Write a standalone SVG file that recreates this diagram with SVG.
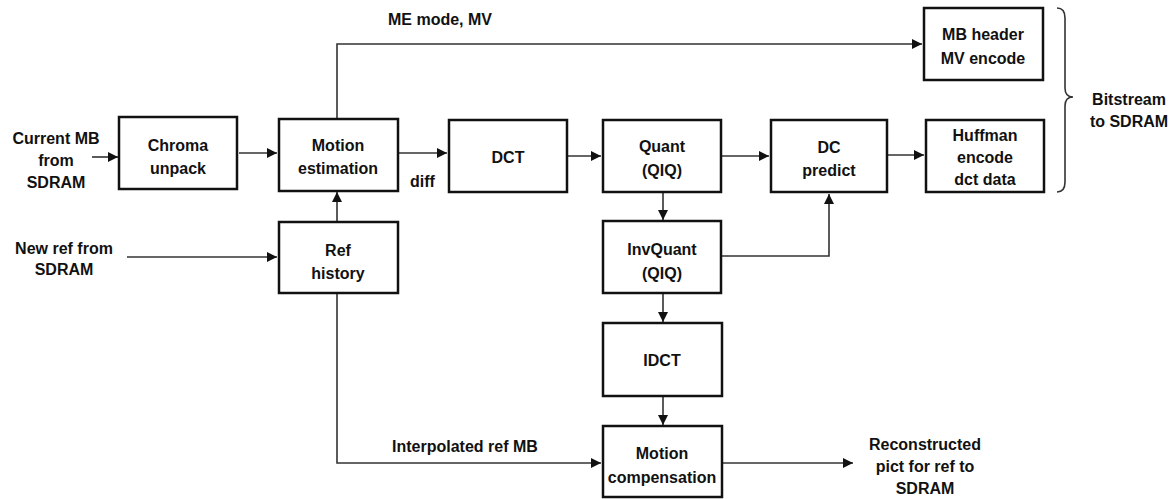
<svg xmlns="http://www.w3.org/2000/svg" width="1173" height="499" viewBox="0 0 1173 499">
<defs>
<marker id="ah" viewBox="0 0 10 10" refX="10" refY="5" markerWidth="10" markerHeight="10" markerUnits="userSpaceOnUse" orient="auto">
<path d="M0,0 L10,5 L0,10 z" fill="#111"/>
</marker>
<style>
.box{fill:#fff;stroke:#111;stroke-width:2.5}
.t{font-family:"Liberation Sans",Arial,sans-serif;font-weight:bold;font-size:16px;fill:#111;text-anchor:middle}
.l{font-family:"Liberation Sans",Arial,sans-serif;font-weight:bold;font-size:16px;fill:#111}
.c{fill:none;stroke:#333;stroke-width:1.6;marker-end:url(#ah)}
.n{fill:none;stroke:#333;stroke-width:1.6}
</style>
</defs>
<rect width="1173" height="499" fill="#fff"/>
<g id="connectors">
<path class="c" d="M92,157 L118,157"/>
<path class="c" d="M239,153 L277,153"/>
<path class="c" d="M337,222 L337,192"/>
<path class="c" d="M127,257 L277,257"/>
<path class="c" d="M337,119 L337,44 L922,44"/>
<path class="c" d="M399,153 L447,153"/>
<path class="c" d="M568,156 L601,156"/>
<path class="c" d="M722,156 L769,156"/>
<path class="c" d="M888,155 L924,155"/>
<path class="c" d="M663,193 L663,220"/>
<path class="c" d="M722,256 L829,256 L829,194"/>
<path class="c" d="M663,294 L663,322"/>
<path class="c" d="M663,397 L663,425"/>
<path class="c" d="M337,294 L337,463 L601,463"/>
<path class="c" d="M723,463 L853,463"/>
<path class="n" stroke-width="1.3" d="M1057,8 Q1065,8 1065,18 L1065,88 Q1065,97 1073,97 Q1065,97 1065,106 L1065,182 Q1065,192 1057,192"/>
</g>
<g id="current-mb"><text class="t" x="56" y="144">Current MB</text><text class="t" x="56" y="166">from</text><text class="t" x="56" y="188">SDRAM</text></g>
<g id="new-ref"><text class="t" x="64" y="254">New ref from</text><text class="t" x="64" y="275">SDRAM</text></g>
<g id="chroma"><rect class="box" x="119" y="117" width="118" height="72"/><text class="t" x="178" y="151">Chroma</text><text class="t" x="178" y="174">unpack</text></g>
<g id="me"><rect class="box" x="279" y="119" width="119" height="72"/><text class="t" x="338" y="151">Motion</text><text class="t" x="338" y="174">estimation</text></g>
<g id="refhist"><rect class="box" x="279" y="222" width="119" height="71"/><text class="t" x="338" y="256">Ref</text><text class="t" x="338" y="279">history</text></g>
<g id="dct"><rect class="box" x="449" y="120" width="118" height="72"/><text class="t" x="508" y="163">DCT</text></g>
<g id="quant"><rect class="box" x="603" y="120" width="118" height="72"/><text class="t" x="662" y="152">Quant</text><text class="t" x="662" y="176">(QIQ)</text></g>
<g id="invquant"><rect class="box" x="603" y="221" width="118" height="72"/><text class="t" x="662" y="255">InvQuant</text><text class="t" x="662" y="279">(QIQ)</text></g>
<g id="idct"><rect class="box" x="603" y="323" width="119" height="73"/><text class="t" x="662" y="366">IDCT</text></g>
<g id="mc"><rect class="box" x="603" y="426" width="119" height="71"/><text class="t" x="662" y="459">Motion</text><text class="t" x="662" y="483">compensation</text></g>
<g id="dcpred"><rect class="box" x="771" y="120" width="116" height="72"/><text class="t" x="829" y="153">DC</text><text class="t" x="829" y="176">predict</text></g>
<g id="mbheader"><rect class="box" x="924" y="8" width="119" height="72"/><text class="t" x="983" y="40">MB header</text><text class="t" x="983" y="64">MV encode</text></g>
<g id="huffman"><rect class="box" x="926" y="120" width="118" height="72"/><text class="t" x="985" y="141">Huffman</text><text class="t" x="985" y="163">encode</text><text class="t" x="985" y="185">dct data</text></g>
<g id="labels">
<text class="l" x="388" y="25">ME mode, MV</text>
<text class="l" x="410" y="187">diff</text>
<text class="l" x="392" y="452">Interpolated ref MB</text>
<text class="t" x="1129" y="105">Bitstream</text><text class="t" x="1129" y="127">to SDRAM</text>
<text class="t" x="925" y="450">Reconstructed</text><text class="t" x="925" y="472">pict for ref to</text><text class="t" x="925" y="494">SDRAM</text>
</g>
</svg>
